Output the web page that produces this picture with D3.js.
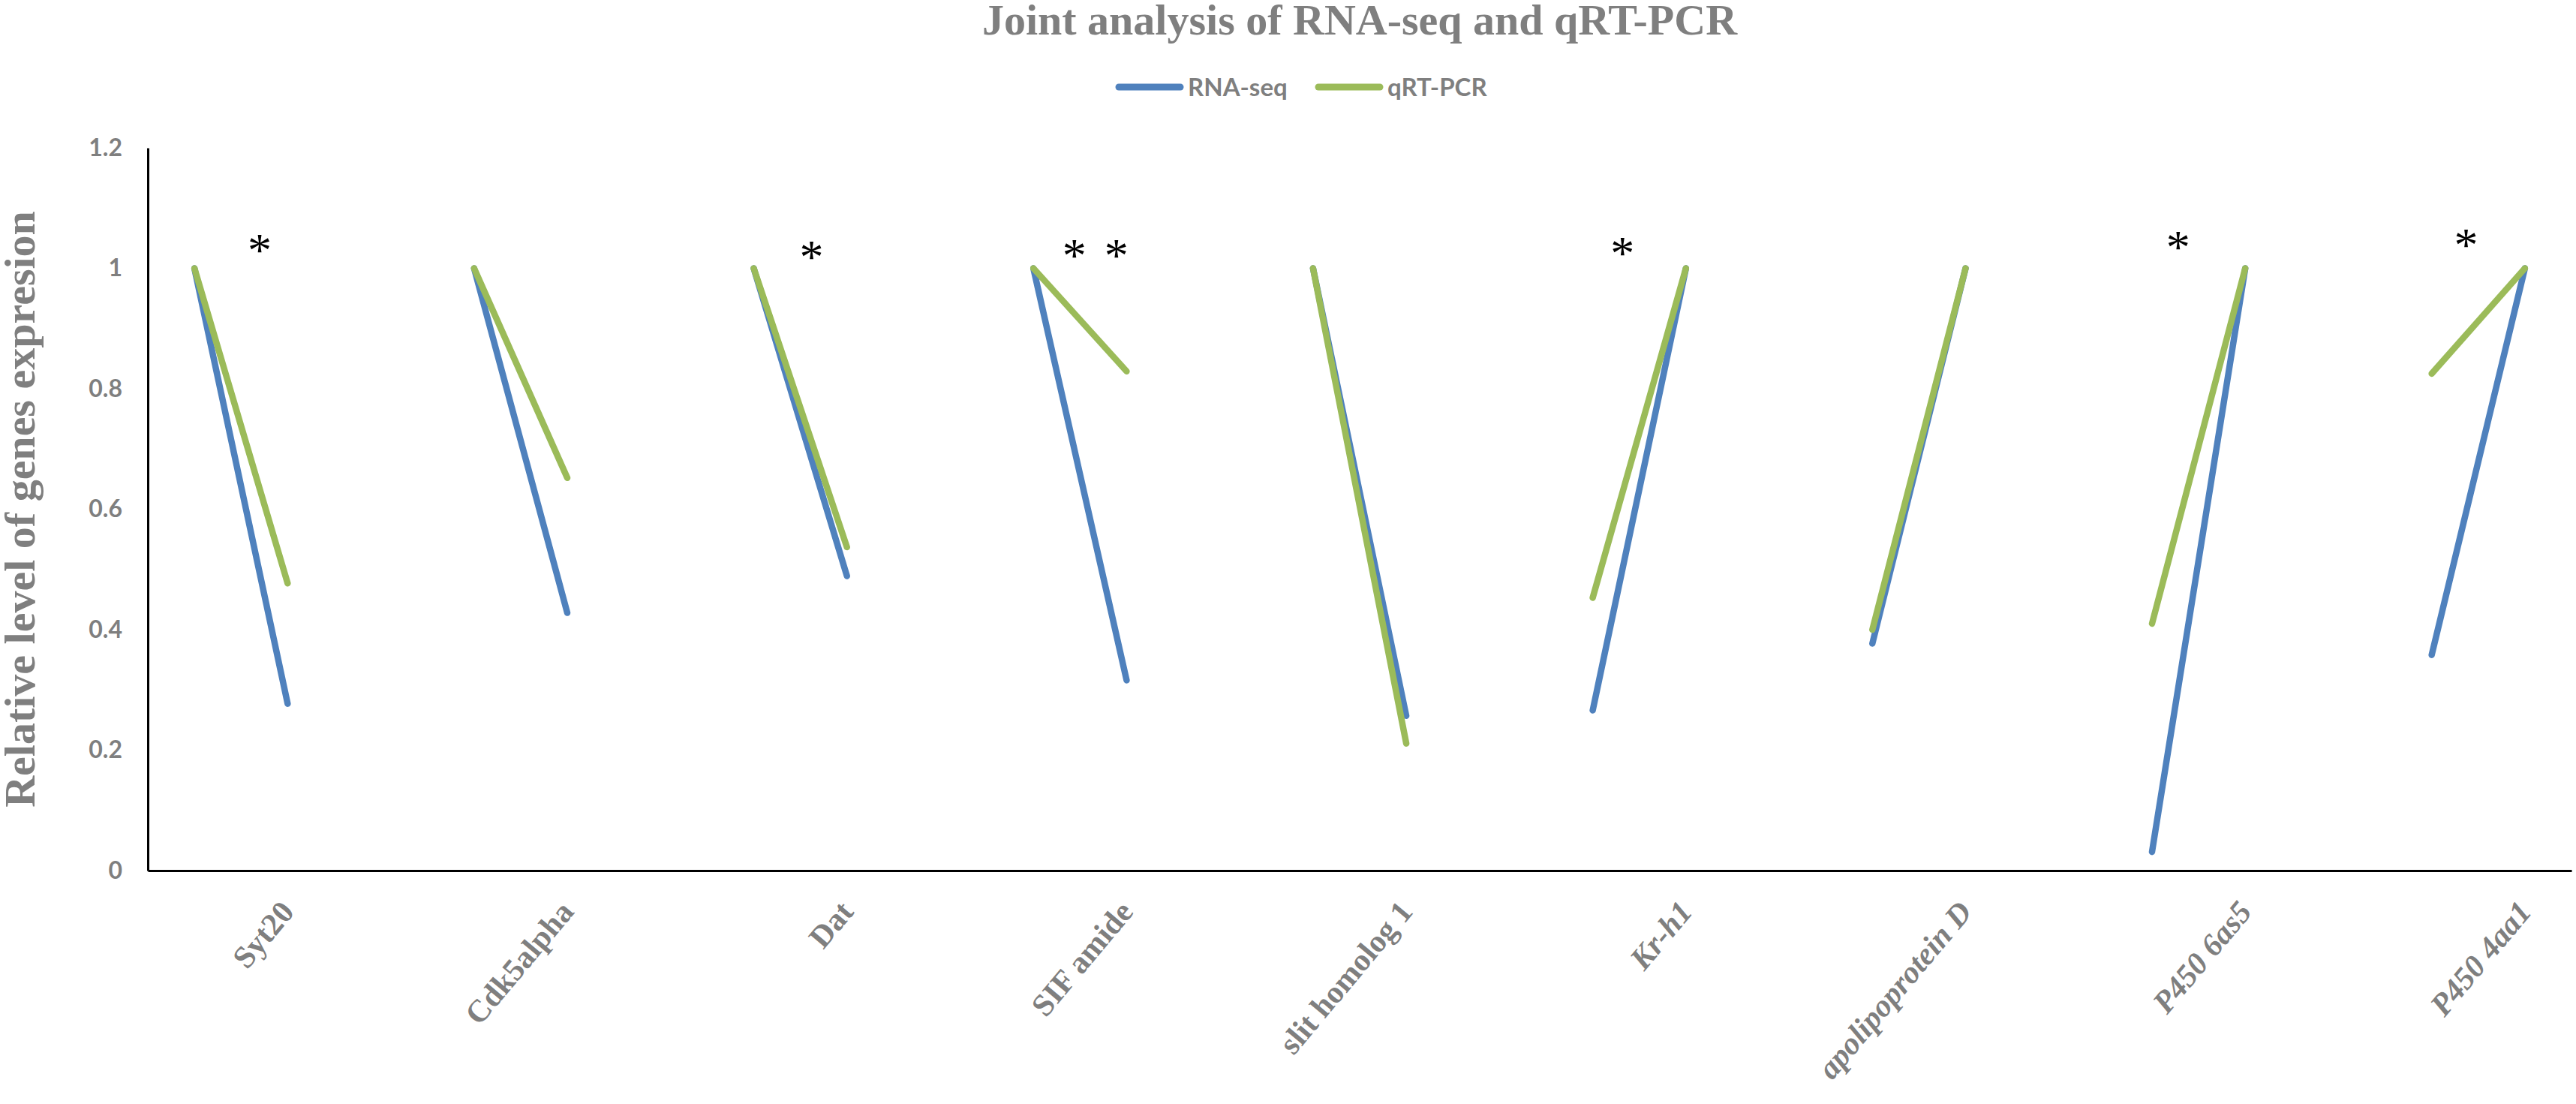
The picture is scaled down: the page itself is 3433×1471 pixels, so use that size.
<!DOCTYPE html>
<html lang="en">
<head>
  <meta charset="UTF-8">
  <title>Joint analysis of RNA-seq and qRT-PCR</title>
  <script src="https://d3js.org/d3.v7.min.js"></script>
  <style>
    body {
      margin: 0;
      padding: 0;
      background: #fff;
    }
    svg {
      display: block;
    }
  </style>
</head>
<body>
  <div id="chart"></div>
  <script>
    // gene names and the two points of each gene (first / second)
    const genes = ["Syt20", "Cdk5alpha", "Dat", "SIF amide", "slit homolog 1", "Kr-h1", "apolipoprotein D", "P450 6as5", "P450 4aa1"];
    const italicGenes = ["Kr-h1", "apolipoprotein D", "P450 6as5", "P450 4aa1"];
    const rnaSeqFirst = [1, 1, 1, 1, 1, 0.266, 0.377, 0.031, 0.358];
    const rnaSeqSecond = [0.277, 0.428, 0.489, 0.316, 0.257, 1, 1, 1, 1];
    const qpcrFirst = [1, 1, 1, 1, 1, 0.453, 0.400, 0.410, 0.825];
    const qpcrSecond = [0.477, 0.652, 0.537, 0.829, 0.211, 1, 1, 1, 1];
    const yTicks = [0, 0.2, 0.4, 0.6, 0.8, 1, 1.2];
    // significance marks: category slot position and height
    const starSlots = [0.7, 6.62, 9.44, 9.89, 15.32, 21.28, 24.37];
    const starValues = [1.04, 1.03, 1.032, 1.032, 1.036, 1.045, 1.049];

    const seriesNames = ["RNA-seq", "qRT-PCR"];
    const seriesColors = ["#4F81BD", "#9BBB59"];

    const width = 3433, height = 1471;
    const margin = { top: 197, right: 6, bottom: 311, left: 197 };
    const grey = "#7f7f7f";

    const svg = d3.select("#chart").append("svg")
      .attr("width", width)
      .attr("height", height);

    // 26 category slots: each gene uses two, then one empty slot
    const slotCount = genes.length * 3 - 1;
    const x = d3.scaleLinear()
      .domain([0, slotCount])
      .range([margin.left, width - margin.right]);
    const slotX = k => x(k + 0.5);

    const y = d3.scaleLinear()
      .domain([0, 1.2])
      .range([height - margin.bottom, margin.top]);

    // title
    svg.append("text")
      .attr("x", (margin.left + width - margin.right) / 2)
      .attr("y", 46)
      .attr("text-anchor", "middle")
      .style("font-family", "'Liberation Serif', 'Times New Roman', serif")
      .style("font-weight", "bold")
      .style("font-size", "58px")
      .style("fill", grey)
      .text("Joint analysis of RNA-seq and qRT-PCR");

    // legend
    const legendX = [1491, 1757];
    const legend = svg.append("g").attr("transform", "translate(0,116)");
    seriesNames.forEach((name, i) => {
      legend.append("line")
        .attr("x1", legendX[i]).attr("x2", legendX[i] + 82)
        .attr("y1", 0).attr("y2", 0)
        .attr("stroke", seriesColors[i])
        .attr("stroke-width", 9)
        .attr("stroke-linecap", "round");
      legend.append("text")
        .attr("x", legendX[i] + 92)
        .attr("y", 0)
        .attr("dy", "0.35em")
        .style("font-family", "Lato, 'Liberation Sans Narrow', sans-serif")
        .style("font-weight", "bold")
        .style("font-size", "33px")
        .style("fill", grey)
        .text(name);
    });

    // y axis
    const yAxis = svg.append("g")
      .attr("transform", `translate(${margin.left},0)`)
      .call(d3.axisLeft(y).tickValues(yTicks).tickSize(0).tickSizeOuter(0).tickPadding(34)
        .tickFormat(d => d3.format("~g")(d)));
    yAxis.select(".domain").attr("stroke", "#000").attr("stroke-width", 3);
    yAxis.selectAll("text")
      .style("font-family", "Lato, 'Liberation Sans Narrow', sans-serif")
      .style("font-weight", "bold")
      .style("font-size", "32px")
      .style("fill", grey);

    // y axis title
    svg.append("text")
      .attr("transform", `translate(46,${(y(0) + y(1.2)) / 2}) rotate(-90)`)
      .attr("text-anchor", "middle")
      .style("font-family", "'Liberation Serif', 'Times New Roman', serif")
      .style("font-weight", "bold")
      .style("font-size", "58px")
      .style("fill", grey)
      .text("Relative level of genes expresion");

    // x axis, labels sit under the second point of each gene
    const labelSlots = genes.map((g, i) => i * 3 + 1);
    const xAxis = svg.append("g")
      .attr("transform", `translate(0,${y(0)})`)
      .call(d3.axisBottom(x).tickValues(labelSlots.map(k => k + 0.5)).tickSize(0).tickSizeOuter(0)
        .tickFormat((d, i) => genes[i]));
    xAxis.select(".domain").attr("stroke", "#000").attr("stroke-width", 3);
    xAxis.selectAll("text")
      .attr("x", 0)
      .attr("y", 0)
      .attr("dy", 0)
      .attr("transform", "translate(10,56) rotate(-50)")
      .style("text-anchor", "end")
      .style("font-family", "'Liberation Serif', 'Times New Roman', serif")
      .style("font-weight", "bold")
      .style("font-style", (d, i) => italicGenes.includes(genes[i]) ? "italic" : "normal")
      .style("font-size", "42px")
      .style("fill", grey);

    // series segments
    const series = [
      { name: "RNA-seq", first: rnaSeqFirst, second: rnaSeqSecond },
      { name: "qRT-PCR", first: qpcrFirst, second: qpcrSecond }
    ];
    const line = d3.line().x(d => slotX(d.slot)).y(d => y(d.value));

    series.forEach((s, si) => {
      const segs = genes.map((g, i) => [
        { slot: i * 3, value: s.first[i] },
        { slot: i * 3 + 1, value: s.second[i] }
      ]);
      svg.append("g").selectAll("path")
        .data(segs)
        .enter().append("path")
        .attr("d", line)
        .attr("fill", "none")
        .attr("stroke", seriesColors[si])
        .attr("stroke-width", 8.5)
        .attr("stroke-linecap", "round");
    });

    // asterisks
    svg.append("g").selectAll("text")
      .data(starSlots)
      .enter().append("text")
      .attr("x", d => slotX(d))
      .attr("y", (d, i) => y(starValues[i]))
      .attr("dy", "0.47em")
      .attr("text-anchor", "middle")
      .style("font-family", "'Liberation Serif', 'Times New Roman', serif")
      .style("font-size", "64px")
      .style("fill", "#000")
      .text("*");
  </script>
</body>
</html>
